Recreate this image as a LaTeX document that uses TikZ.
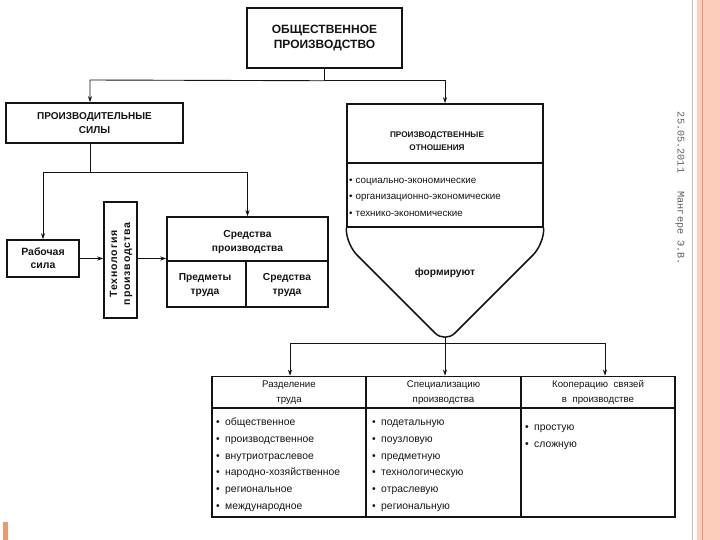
\documentclass[tikz,border=0pt]{standalone}
\usepackage{fontspec}
\setmainfont{Liberation Sans}
\newfontfamily\monof{Liberation Mono}
\usetikzlibrary{arrows.meta}
\definecolor{sidefill}{RGB}{252,206,186}
\definecolor{sideline}{RGB}{238,150,110}
\definecolor{sidegray}{RGB}{200,190,182}
\definecolor{ink}{RGB}{20,20,20}
\definecolor{wmgray}{RGB}{95,95,95}
\newcommand\bul{\makebox[9pt][l]{\textbullet}}
\newcommand\bulb{\makebox[6.5pt][l]{\textbullet}}
\begin{document}
\begin{tikzpicture}[x=1pt,y=-1pt,
  box/.style={draw=ink,line width=1.5pt,inner sep=0pt},
  conn/.style={draw=ink,line width=0.9pt},
  arr/.style={conn,-{Stealth[length=6pt,width=4pt]}},
  bold/.style={font=\fontsize{10.2}{14}\selectfont\bfseries,align=center,text=ink},
  hdr/.style={box,font=\fontsize{9.7}{15.5}\selectfont,align=center,text=ink},
  item/.style={font=\fontsize{10.4}{12}\selectfont,inner sep=0pt,anchor=base west,text=ink},
  itemb/.style={font=\fontsize{9.8}{12}\selectfont,inner sep=0pt,anchor=base west,text=ink}]
\useasboundingbox (0,0) rectangle (720,540);
% side decoration
\fill[sidefill] (697,0) rectangle (720,540);
\draw[sidegray,line width=0.6pt] (692,0) -- (692,540);
\draw[sideline,line width=1pt] (702.5,0) -- (702.5,540);
\fill[sideline] (3,522) rectangle (8,540);
\node[rotate=-90,font=\monof\fontsize{10.2}{12}\selectfont,text=wmgray] (wm) at (680,188.5) {25.05.2011\ \ \ Мангере Э.В.};

% top box
\node[box,minimum width=155pt,minimum height=60pt,font=\fontsize{12}{15}\selectfont\bfseries,align=center,text=ink] (top) at (324.5,38) {ОБЩЕСТВЕННОЕ\\ПРОИЗВОДСТВО};
% productive forces
\node[box,minimum width=177pt,minimum height=40pt,font=\fontsize{10}{14}\selectfont\bfseries,align=center,text=ink] (sily) at (94.5,123) {ПРОИЗВОДИТЕЛЬНЫЕ\\СИЛЫ};
% production relations
\node[box,minimum width=196pt,minimum height=123pt] (otn) at (445,165.5) {};
\draw[box] (otn.west |- 0,163) -- (otn.east |- 0,163);
\node[font=\fontsize{8.2}{13}\selectfont\bfseries,align=center,text=ink] (otnh) at (437,141.5) {ПРОИЗВОДСТВЕННЫЕ\\ОТНОШЕНИЯ};
\node[itemb] (o1) at (349,184) {\bulb социально-экономические};
\node[itemb] (o2) at (349,200) {\bulb организационно-экономические};
\node[itemb] (o3) at (349,217) {\bulb технико-экономические};
\draw[box,rounded corners=14pt] (otn.south west) -- (347,245) -- (445,343) -- (543,245) -- (otn.south east);
\coordinate (fb) at (445,337);
\node[bold] (form) at (445,273) {формируют};

% connectors from top
\draw[conn] (top.south) -- ++(0,12) coordinate (j1);
\coordinate (xa) at (90,80);
\draw[arr] (j1) -- (xa) -- (sily.north -| xa);
\draw[arr] (j1) -| (otn.north);

% second level
\node[box,minimum width=72pt,minimum height=37pt,font=\fontsize{10.5}{13}\selectfont\bfseries,align=center,text=ink] (rab) at (43,258.5) {Рабочая\\сила};
\node[box,minimum width=33pt,minimum height=116pt] (tech) at (120.5,260) {};
\node[rotate=90,font=\fontsize{10.5}{13}\selectfont\bfseries\addfontfeature{LetterSpace=8},align=center,text=ink] (techt) at (121,264) {Технология\\производства};
\node[box,minimum width=161pt,minimum height=90pt] (sred) at (247.5,262) {};
\draw[box] (sred.west |- 0,261) -- (sred.east |- 0,261);
\draw[box] (246,261) -- (sred.south -| 246,0);
\node[bold] (sredh) at (247.5,241.5) {Средства\\производства};
\node[bold] (pred) at (205,285) {Предметы\\труда};
\node[bold] (sredt) at (287,285) {Средства\\труда};

\coordinate (j2) at (90,172);
\draw[conn] (sily.south -| j2) -- (j2);
\draw[arr] (j2) -| (rab.north);
\draw[arr] (j2) -| (sred.north);
\draw[arr] (rab.east) -- (rab.east -| tech.west);
\draw[arr] (rab.east -| tech.east) -- (rab.east -| sred.west);

% table
\node[hdr,minimum width=154pt,minimum height=32pt] (h1) at (289,392.5) {Разделение\\труда};
\node[hdr,minimum width=155pt,minimum height=32pt] (h2) at (443.5,392.5) {Специализацию\\производства};
\node[hdr,minimum width=154pt,minimum height=32pt] (h3) at (598,392.5) {Кооперацию\ \ связей\\в\ \ производстве};
\node[box,minimum width=154pt,minimum height=109pt] (b1) at (289,462.5) {};
\node[box,minimum width=155pt,minimum height=109pt] (b2) at (443.5,462.5) {};
\node[box,minimum width=154pt,minimum height=109pt] (b3) at (598,462.5) {};

\foreach \t [count=\i] in {общественное,производственное,внутриотраслевое,народно-хозяйственное,региональное,международное}
  \node[item] (la\i) at ({216},{425.5+16.8*(\i-1)}) {\bul\t};
\foreach \t [count=\i] in {подетальную,поузловую,предметную,технологическую,отраслевую,региональную}
  \node[item] (lb\i) at ({372},{425.5+16.8*(\i-1)}) {\bul\t};
\node[item] (lc1) at (525,430.5) {\bul простую};
\node[item] (lc2) at (525,447) {\bul сложную};

% bottom connectors
\draw[conn] (fb) -- (445,343) coordinate (j3);
\coordinate (j3l) at (290,343);
\coordinate (j3r) at (605,343);
\draw[conn] (j3l) -- (j3r);
\draw[arr] (j3l) -- (h1.north -| j3l);
\draw[arr] (j3) -- (h2.north -| j3);
\draw[arr] (j3r) -- (h3.north -| j3r);
\end{tikzpicture}
\end{document}
